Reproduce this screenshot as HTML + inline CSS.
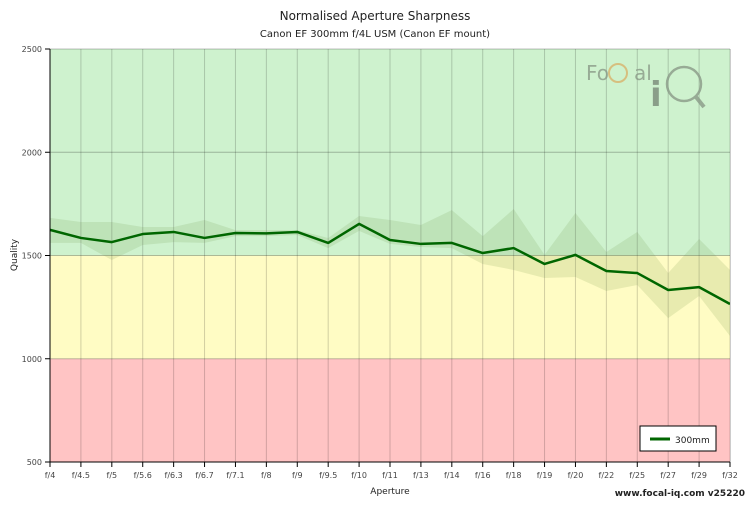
<!DOCTYPE html>
<html><head><meta charset="utf-8"><style>
body{margin:0;background:#fff;font-family:"Liberation Sans",sans-serif}
text{font-family:"DejaVu Sans","Liberation Sans",sans-serif}
</style></head><body>
<svg id="c" width="750" height="500">
<text x="375" y="20" text-anchor="middle" font-size="12" fill="#222">Normalised Aperture Sharpness</text>
<text x="375" y="37" text-anchor="middle" font-size="10" fill="#222">Canon EF 300mm f/4L USM (Canon EF mount)</text>
<g id="plot"></g>
<text x="390" y="494" text-anchor="middle" font-size="9" fill="#222">Aperture</text>
<text x="17" y="255" text-anchor="middle" font-size="9" fill="#222" transform="rotate(-90 17 255)">Quality</text>
<text x="745" y="496" text-anchor="end" font-size="9" font-weight="bold" fill="#222">www.focal-iq.com  v25220</text>
<g opacity="0.8">
<text x="586" y="80" font-size="20" fill="#8a9a88">Fo</text><circle cx="618" cy="73" r="9" fill="none" stroke="#d9b36c" stroke-width="2"/><text x="634" y="80" font-size="20" fill="#8a9a88">al</text>
<text x="650" y="106" font-size="34" font-weight="bold" fill="#7a8a78">i</text><circle cx="684" cy="84" r="17" fill="none" stroke="#8a9a88" stroke-width="2.5"/><line x1="696" y1="97" x2="704" y2="107" stroke="#8a9a88" stroke-width="4"/>
</g>
<g><rect x="640" y="426" width="76" height="25" fill="#fff" stroke="#000"/><line x1="650" y1="439" x2="670" y2="439" stroke="#006600" stroke-width="3"/><text x="675" y="443" font-size="9" fill="#222">300mm</text></g>
</svg>
<script>
const categories=["f/4","f/4.5","f/5","f/5.6","f/6.3","f/6.7","f/7.1","f/8","f/9","f/9.5","f/10","f/11","f/13","f/14","f/16","f/18","f/19","f/20","f/22","f/25","f/27","f/29","f/32"];
const values=[1624,1585,1565,1604,1614,1585,1609,1607,1614,1561,1653,1575,1556,1561,1512,1536,1459,1503,1425,1415,1333,1347,1265];
const upper=[1682,1662,1662,1638,1638,1672,1623,1623,1623,1585,1691,1672,1648,1720,1594,1725,1503,1706,1517,1614,1415,1580,1430];
const lower=[1561,1561,1478,1551,1565,1561,1594,1594,1599,1536,1619,1556,1541,1536,1459,1430,1391,1396,1328,1357,1197,1304,1110];
const yTicks=[500,1000,1500,2000,2500];
const X0=50,X1=730,Y0=462,Y1=49;
const x=i=>X0+i*(X1-X0)/(categories.length-1);
const y=v=>Y0-(v-500)*(Y0-Y1)/2000;
const NS="http://www.w3.org/2000/svg",g=document.getElementById('plot');
function mk(t,a,p){const e=document.createElementNS(NS,t);for(const k in a)e.setAttribute(k,a[k]);(p||g).appendChild(e);return e;}
let e;
e=mk('rect',{x:X0,y:y(1000),width:X1-X0,height:Y0-y(1000),fill:'#ffc4c4'});


e=mk('rect',{x:X0,y:y(1500),width:X1-X0,height:y(1000)-y(1500),fill:'#fffcc4'});


e=mk('rect',{x:X0,y:Y1,width:X1-X0,height:y(1500)-Y1,fill:'#cef2ce'});


categories.forEach((c,i)=>{
 e=mk('line',{x1:x(i),x2:x(i),y1:Y1,y2:Y0,stroke:'rgba(0,0,0,0.18)'});
 
 
 mk('line',{x1:x(i),x2:x(i),y1:Y0,y2:Y0+5,stroke:'#000'});
 e=mk('text',{x:x(i),y:Y0+16,'text-anchor':'middle','font-size':8,fill:'#444'});e.textContent=c;
 
 
});
yTicks.forEach(v=>{
 e=mk('line',{x1:X0,x2:X1,y1:y(v),y2:y(v),stroke:'rgba(0,0,0,0.25)'});
 
 
 mk('line',{x1:X0-5,x2:X0,y1:y(v),y2:y(v),stroke:'#000'});
 e=mk('text',{x:X0-8,y:y(v)+3,'text-anchor':'end','font-size':8,fill:'#444'});e.textContent=v;
 
 
});
let band=upper.map((v,i)=>x(i)+','+y(v)).join(' ')+' '+lower.map((v,i)=>x(i)+','+y(v)).reverse().join(' ');
e=mk('polygon',{points:band,fill:'rgba(100,140,60,0.15)'});


e=mk('polyline',{points:values.map((v,i)=>x(i)+','+y(v)).join(' '),fill:'none',stroke:'#006600','stroke-width':2.5,'stroke-linejoin':'round'});


mk('line',{x1:X0,x2:X0,y1:Y1,y2:Y0,stroke:'#000'});
mk('line',{x1:X0,x2:X1,y1:Y0,y2:Y0,stroke:'#000'});
mk('line',{x1:X1+0.5,x2:X1+0.5,y1:Y1,y2:Y0,stroke:'#ccc'});
</script>
</body></html>
